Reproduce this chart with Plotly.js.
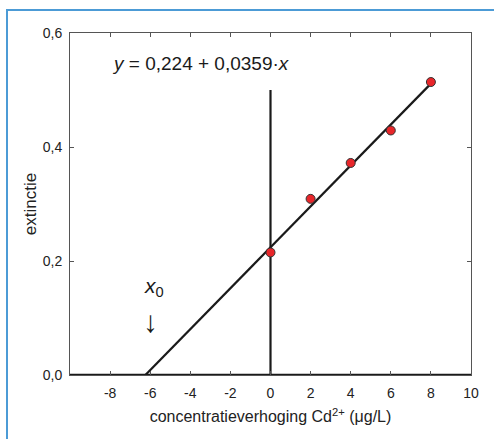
<!DOCTYPE html>
<html>
<head>
<meta charset="utf-8">
<script src="https://cdn.plot.ly/plotly-3.0.1.min.js"></script>
<style>
  html, body { margin: 0; padding: 0; background: #ffffff; }
  #frame { position: absolute; left: 6px; top: 9px; width: 600px; height: 600px;
           border-left: 2px solid #4c9bd6; border-top: 2px solid #4c9bd6; }
  #chart { position: absolute; left: 0; top: 0; width: 494px; height: 439px; }
</style>
</head>
<body>
<div id="frame"></div>
<div id="chart"></div>
<script>
// Data
const concentration = [0, 2, 4, 6, 8];
const extinction = [0.215, 0.309, 0.372, 0.429, 0.514];
const intercept = 0.224;
const slope = 0.0359;
const xTickVals = [-8, -6, -4, -2, 0, 2, 4, 6, 8, 10];
const yTickVals = [0, 0.2, 0.4, 0.6];

const x0 = -intercept / slope;
const xEnd = concentration[concentration.length - 1];

const font = 'Liberation Sans, Arial, sans-serif';

const traces = [
  { // vertical line at x = 0
    x: [0, 0], y: [0, 0.5], mode: 'lines',
    line: { color: '#1a1a1a', width: 2.2 }, hoverinfo: 'skip', showlegend: false
  },
  { // baseline at y = 0
    x: [-10, 10], y: [0, 0], mode: 'lines',
    line: { color: '#1a1a1a', width: 2.5 }, hoverinfo: 'skip', showlegend: false, cliponaxis: false
  },
  { // fitted line
    x: [x0, xEnd], y: [intercept + slope * x0, intercept + slope * xEnd], mode: 'lines',
    line: { color: '#1a1a1a', width: 2.2 }, hoverinfo: 'skip', showlegend: false
  },
  {
    x: concentration, y: extinction, mode: 'markers',
    marker: { color: '#e8262a', size: 9, line: { color: '#333', width: 1 } },
    showlegend: false, cliponaxis: false
  }
];

const layout = {
  width: 494, height: 439,
  margin: { l: 70, r: 23, t: 33, b: 64 },
  paper_bgcolor: 'rgba(0,0,0,0)', plot_bgcolor: '#ffffff',
  separators: ', ',
  font: { family: font, color: '#222', size: 14 },
  showlegend: false,
  xaxis: {
    range: [-10, 10], tickvals: xTickVals, ticktext: xTickVals.map(String),
    ticks: 'inside', ticklen: 4, tickcolor: '#555', tickwidth: 1,
    showline: true, linecolor: '#555', linewidth: 1, mirror: 'ticks',
    showgrid: false, zeroline: false, ticklabelstandoff: 5,
    tickfont: { size: 14, family: font, color: '#222' },
    title: { text: 'concentratieverhoging Cd<sup>2+</sup> (μg/L)', font: { size: 16, family: font, color: '#222' }, standoff: 11 }
  },
  yaxis: {
    range: [0, 0.6], tickvals: yTickVals, tickformat: '.1f',
    ticks: 'inside', ticklen: 4, tickcolor: '#555', tickwidth: 1,
    showline: true, linecolor: '#555', linewidth: 1, mirror: 'ticks',
    showgrid: false, zeroline: false, ticklabelstandoff: 4,
    tickfont: { size: 14, family: font, color: '#222' },
    title: { text: 'extinctie', font: { size: 17, family: font, color: '#222' }, standoff: 1 }
  },
  annotations: [
    {
      x: -8, y: 0.547, xref: 'x', yref: 'y', xanchor: 'left', yanchor: 'middle',
      text: '<i>y</i> = 0,224 + 0,0359·<i>x</i>', showarrow: false,
      font: { size: 19, family: font, color: '#1a1a1a' }
    },
    {
      x: -5.8, y: 0.155, xref: 'x', yref: 'y', xanchor: 'center', yanchor: 'middle',
      text: '<i>x</i><sub>0</sub>', showarrow: false,
      font: { size: 21, family: font, color: '#1a1a1a' }
    },
    {
      x: -6, y: 0.093, xref: 'x', yref: 'y', xanchor: 'center', yanchor: 'middle',
      text: '↓', showarrow: false,
      font: { size: 30, family: font, color: '#1a1a1a' }
    }
  ]
};

Plotly.newPlot('chart', traces, layout, { displayModeBar: false, staticPlot: true });
</script>
</body>
</html>
